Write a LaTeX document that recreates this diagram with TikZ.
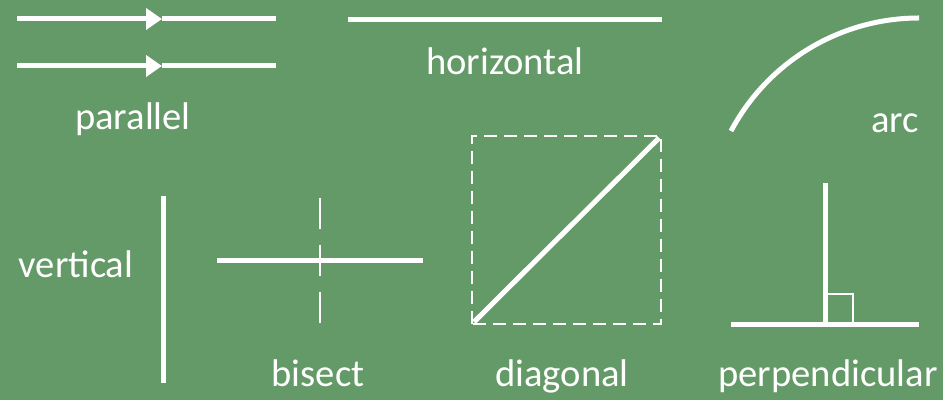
\documentclass[tikz,border=0pt]{standalone}
\usepackage{fontspec}
\setmainfont{Carlito}
\usetikzlibrary{arrows.meta}
\definecolor{boardbg}{RGB}{100,154,103}
\definecolor{chalk}{RGB}{255,255,255}
\tikzset{
  thk/.style={draw=chalk,line width=2.5pt},
  thn/.style={draw=chalk,line width=1.3pt},
  dsh/.style={thn,dash pattern=on 15.5pt off 8pt},
  sqdsh/.style={thn,dash pattern=on 6.5pt off 3.5pt},
  tip/.style={-{Triangle[length=8pt,width=10.5pt]}},
  lbl/.style={font=\fontsize{19.3}{23}\selectfont,text=chalk,anchor=base,inner sep=0pt},
}
\begin{document}
\begin{tikzpicture}[x=0.5pt,y=-0.5pt]
  \fill[boardbg] (0,0) rectangle (943,400);
  \useasboundingbox (0,0) rectangle (943,400);

  % parallel
  \coordinate (pa1) at (17,19);  \coordinate (pm1) at (162,19);  \coordinate (pb1) at (276,19);
  \coordinate (pa2) at (17,66);  \coordinate (pm2) at (162,66);  \coordinate (pb2) at (276,66);
  \draw[thk,tip] (pa1) -- (pm1);
  \draw[thk] (pm1) -- (pb1);
  \draw[thk,tip] (pa2) -- (pm2);
  \draw[thk] (pm2) -- (pb2);
  \node[lbl] (parlbl) at (133,130) {parallel};

  % horizontal
  \coordinate (hl) at (348,20);
  \coordinate (hr) at (662,20);
  \draw[thk] (hl) -- (hr);
  \node[lbl] (horlbl) at (505,75) {horizontal};

  % arc
  \coordinate (arcs) at (731,131);
  \draw[thk] (arcs) arc[start angle=-152,end angle=-90,radius=213];
  \node[lbl] (arclbl) at (895,133) {arc};

  % vertical
  \coordinate (vt) at (163,196);
  \coordinate (vb) at (163,383);
  \draw[thk] (vt) -- (vb);
  \node[lbl] (verlbl) at (76,278) {vertical};

  % bisect
  \coordinate (bl) at (217,261);
  \coordinate (br) at (423,261);
  \coordinate (bt) at (320,198);
  \coordinate (bb) at (320,325);
  \draw[thk] (bl) -- (br);
  \draw[dsh] (bt) -- (bb);
  \node[lbl] (bislbl) at (318,387) {bisect};

  % diagonal
  \coordinate (dsw) at (472,324);
  \coordinate (dne) at (661,136);
  \draw[sqdsh] (dsw) rectangle (dne);
  \draw[thk] (474,322) -- (659,138);
  \node[lbl] (diaglbl) at (562,387) {diagonal};

  % perpendicular
  \coordinate (pl) at (731,325);
  \coordinate (pr) at (919,325);
  \coordinate (pt) at (825,183);
  \coordinate (pf) at (825,325);
  \draw[thk] (pl) -- (pr);
  \draw[thk] (pt) -- (pf);
  \draw[thn] (825,294) rectangle (853,325);
  \node[lbl] (perplbl) at (828,387) {perpendicular};
\end{tikzpicture}
\end{document}
